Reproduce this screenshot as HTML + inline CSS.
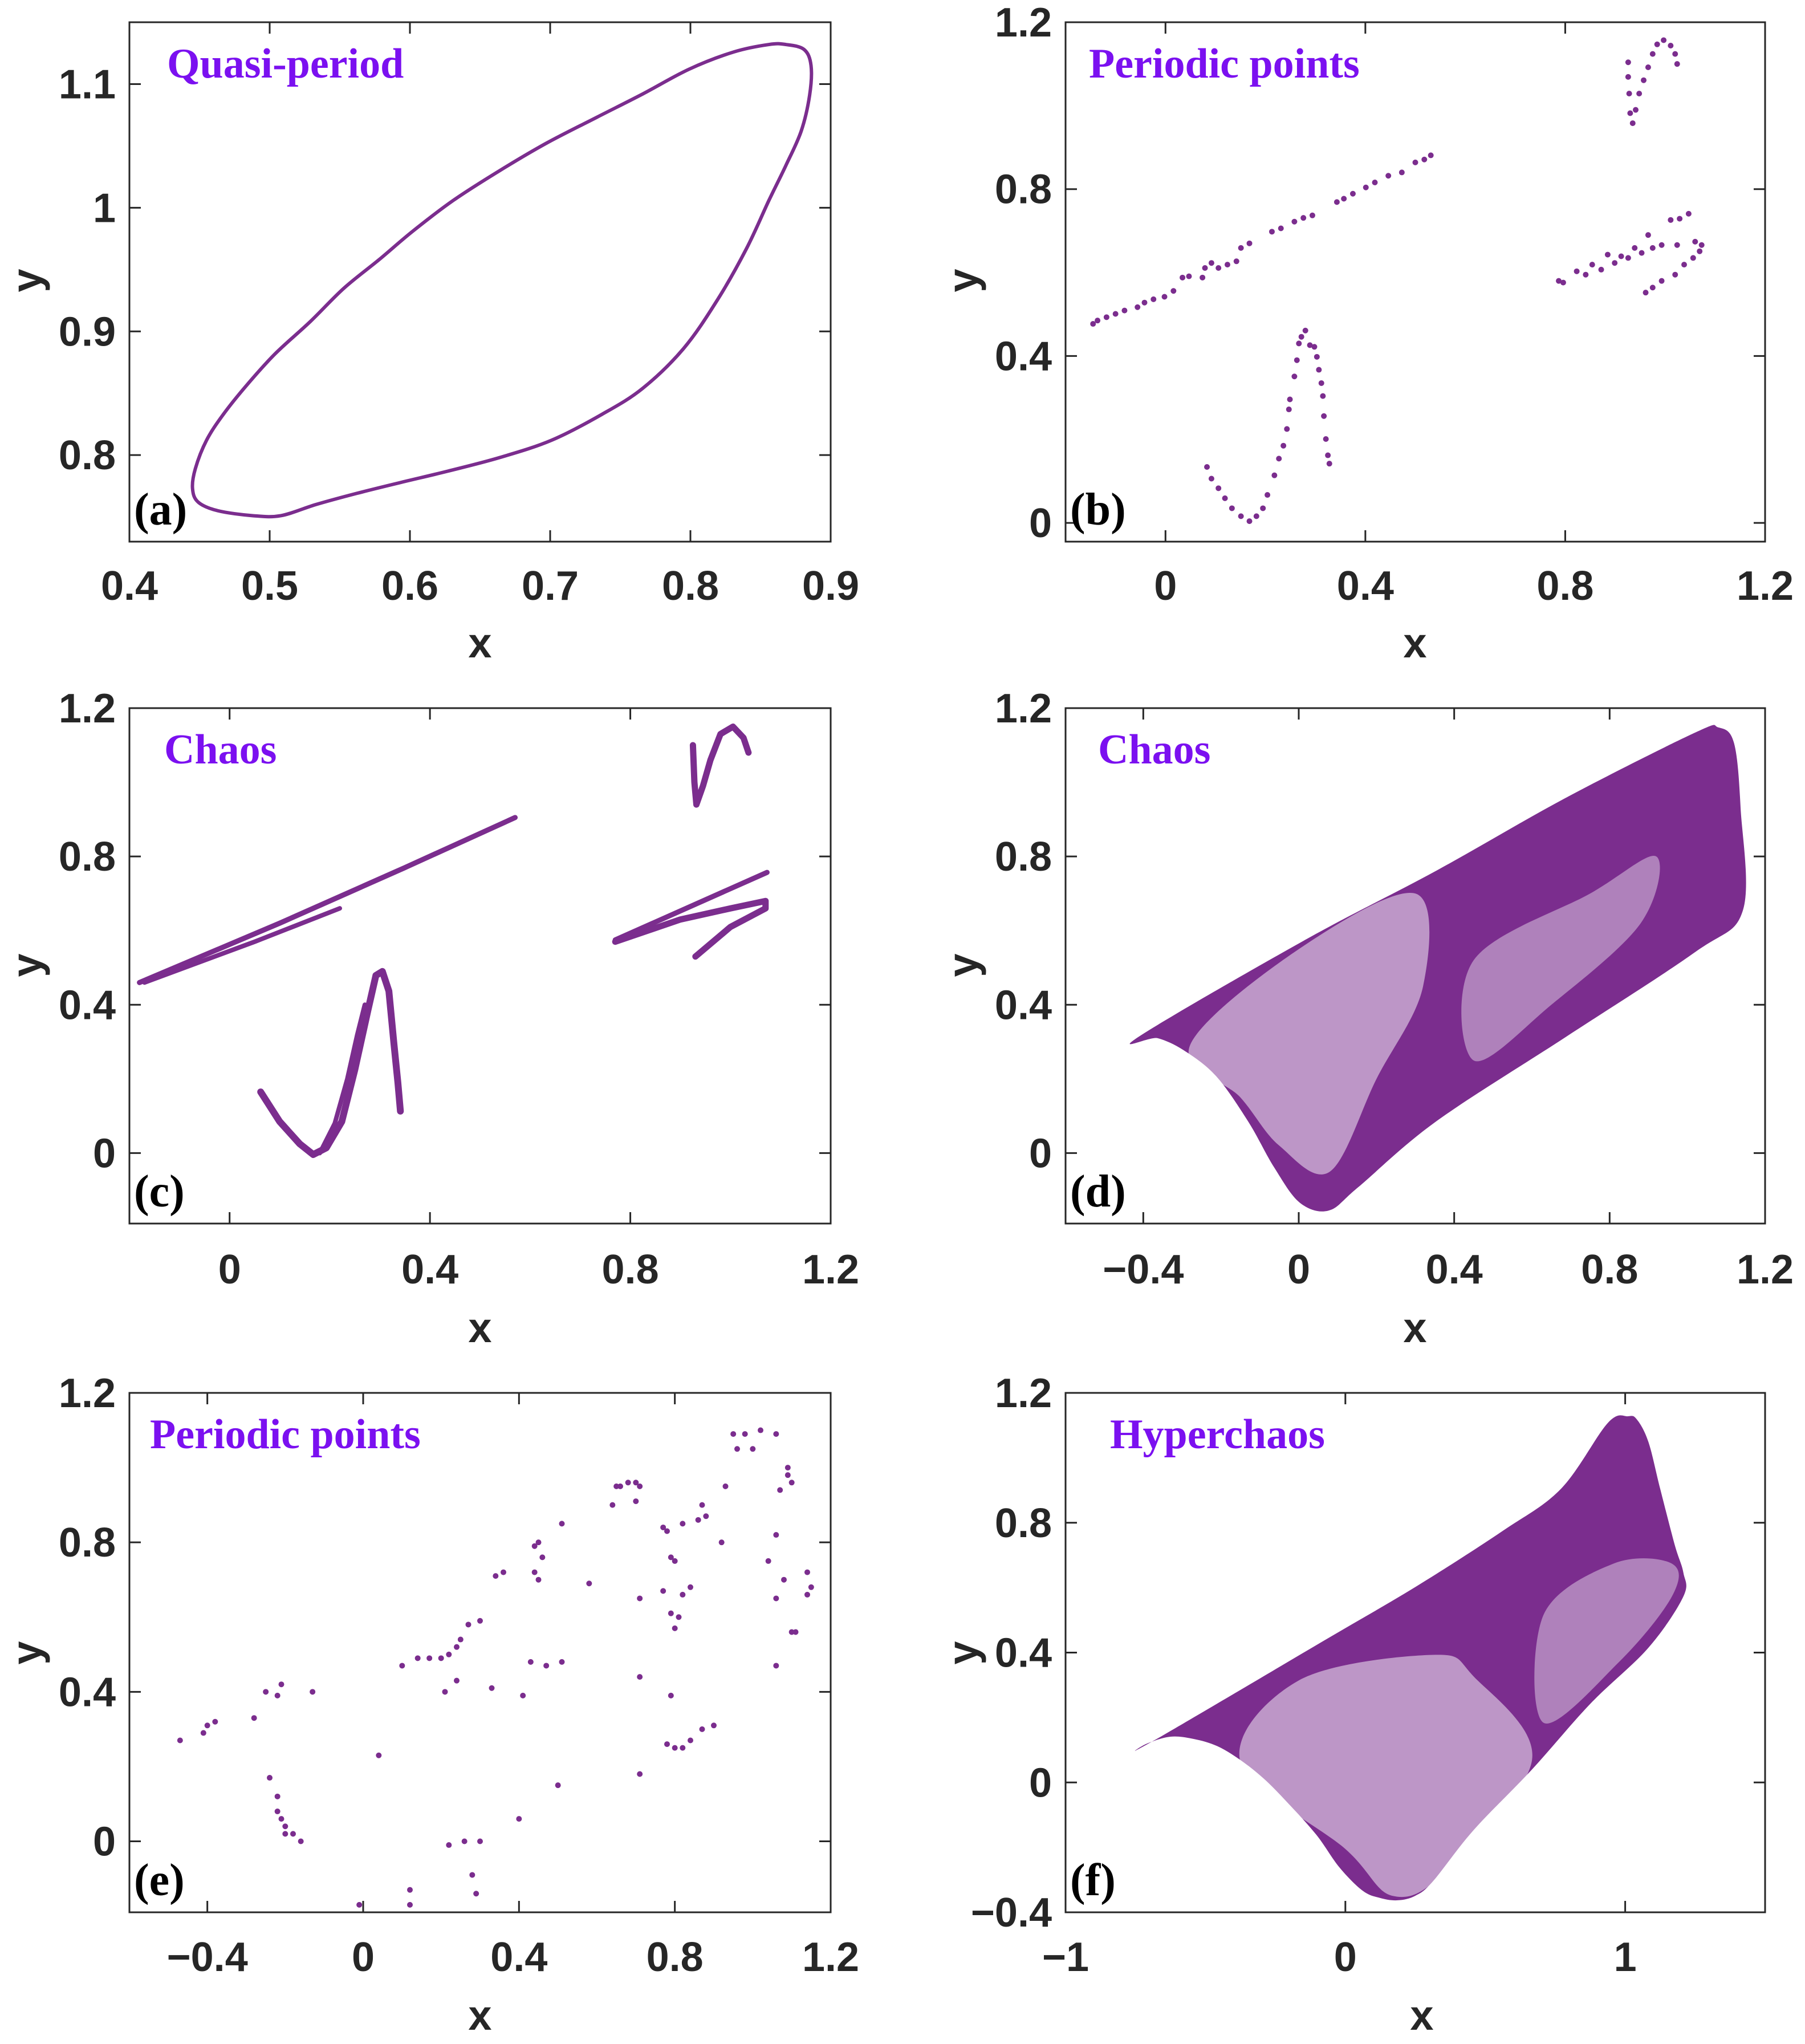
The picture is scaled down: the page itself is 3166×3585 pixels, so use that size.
<!DOCTYPE html>
<html><head><meta charset="utf-8">
<style>
html,body{margin:0;padding:0;background:#fff;}
svg{display:block;}
</style></head>
<body>
<svg id="fig" width="3166" height="3585" viewBox="0 0 3166 3585" xmlns="http://www.w3.org/2000/svg"></svg>
<script>
// ---- Panel (a) quasi-period loop ----
const loopAX=[0.445,0.447,0.455,0.467,0.484,0.504,0.529,0.553,0.578,0.602,0.631,0.664,0.697,0.733,0.766,0.799,0.831,0.856,0.868,0.881,0.886,0.885,0.879,0.868,0.856,0.840,0.819,0.795,0.766,0.737,0.701,0.664,0.627,0.594,0.562,0.533,0.508,0.488,0.463,0.449];
const loopAY=[0.773,0.789,0.812,0.833,0.857,0.882,0.908,0.935,0.958,0.981,1.006,1.030,1.052,1.073,1.092,1.112,1.126,1.132,1.132,1.128,1.115,1.091,1.062,1.034,1.006,0.967,0.925,0.886,0.854,0.833,0.812,0.798,0.787,0.778,0.769,0.760,0.751,0.751,0.755,0.762];
// ---- Panel (b) periodic points ----
const ptsBX=[-0.145,-0.136,-0.118,-0.100,-0.082,-0.056,-0.042,-0.024,-0.002,0.016,0.034,0.047,0.074,0.079,0.092,0.106,0.124,0.142,0.151,0.168,0.213,0.231,0.258,0.276,0.294,0.343,0.357,0.375,0.401,0.419,0.446,0.473,0.500,0.518,0.531,
0.083,0.092,0.106,0.119,0.133,0.151,0.168,0.182,0.195,0.204,0.218,0.227,0.236,0.243,0.247,0.249,0.258,0.263,0.267,0.272,0.280,0.289,0.298,0.303,0.307,0.312,0.315,0.317,0.321,0.325,0.328,
0.926,0.926,0.928,0.930,0.935,0.941,0.948,0.957,0.966,0.975,0.984,0.997,1.011,1.020,1.024,
0.787,0.796,0.823,0.841,0.854,0.872,0.885,0.899,0.912,0.926,0.939,0.953,0.966,0.975,0.993,1.011,1.024,1.029,1.047,1.060,1.073,1.069,1.056,1.038,1.020,0.993,0.975,0.961];
const ptsBY=[0.477,0.485,0.493,0.501,0.509,0.517,0.528,0.536,0.542,0.556,0.588,0.591,0.588,0.611,0.623,0.611,0.619,0.627,0.659,0.670,0.698,0.706,0.722,0.731,0.737,0.769,0.777,0.789,0.804,0.816,0.832,0.840,0.864,0.871,0.881,
0.134,0.106,0.083,0.059,0.035,0.016,0.004,0.016,0.035,0.067,0.114,0.154,0.185,0.225,0.272,0.296,0.351,0.390,0.430,0.446,0.461,0.426,0.422,0.398,0.367,0.335,0.304,0.256,0.201,0.162,0.142,
1.104,1.069,1.029,0.982,0.958,0.990,1.029,1.061,1.092,1.124,1.147,1.157,1.144,1.124,1.100,
0.580,0.576,0.603,0.595,0.619,0.607,0.643,0.623,0.639,0.635,0.659,0.647,0.690,0.659,0.666,0.726,0.666,0.729,0.741,0.674,0.666,0.651,0.635,0.619,0.595,0.580,0.564,0.552];
// ---- Panel (c) chaos curves ----
const lineC1X=[-0.18,0.10,0.35,0.57];
const lineC1Y=[0.46,0.62,0.77,0.905];
const lineC2X=[-0.17,0.05,0.22];
const lineC2Y=[0.46,0.57,0.66];
const sC1X=[0.062,0.10,0.14,0.167,0.193,0.224,0.25,0.276,0.292,0.305,0.318,0.328,0.336,0.341];
const sC1Y=[0.165,0.085,0.025,-0.004,0.014,0.085,0.225,0.384,0.479,0.49,0.437,0.296,0.19,0.113];
const sC2X=[0.18,0.21,0.235,0.255,0.27];
const sC2Y=[0.0,0.08,0.2,0.32,0.40];
const hookCX=[0.925,0.928,0.932,0.945,0.96,0.98,1.005,1.026,1.036];
const hookCY=[1.10,1.0,0.94,0.99,1.06,1.13,1.15,1.12,1.08];
const rC1X=[0.77,1.073];
const rC1Y=[0.575,0.757];
const rC2X=[0.77,0.90,1.0,1.07,1.07,1.0,0.93];
const rC2Y=[0.57,0.63,0.66,0.68,0.66,0.61,0.53];
// ---- Panel (d) chaos region ----
const regDX=[-0.413,0.02,0.353,0.687,1.02,1.08,1.12,1.137,1.143,1.02,0.687,0.353,0.153,0.077,0.003,-0.063,-0.13,-0.213,-0.297,-0.363];
const regDY=[0.313,0.577,0.761,0.958,1.134,1.148,1.106,0.93,0.655,0.542,0.313,0.085,-0.092,-0.155,-0.134,-0.039,0.085,0.208,0.278,0.31];
const lightD1X=[-0.28,0.0,0.3,0.32,0.2,0.08,-0.05,-0.15];
const lightD1Y=[0.29,0.55,0.70,0.45,0.2,-0.05,0.02,0.15];
const lightD2X=[0.45,0.75,0.92,0.88,0.65,0.45];
const lightD2Y=[0.52,0.70,0.80,0.62,0.40,0.25];
// ---- Panel (e) periodic points ----
const ptsEX=[-0.47,-0.41,-0.40,-0.38,-0.28,-0.25,-0.22,-0.21,-0.13,-0.24,-0.22,-0.21,-0.20,-0.20,-0.18,-0.16,-0.22,0.04,-0.01,0.12,0.12,0.10,0.14,0.17,0.20,0.22,0.24,0.25,0.27,0.30,0.21,0.24,0.33,0.34,0.36,0.44,0.45,0.46,0.44,0.45,0.51,0.43,0.47,0.51,0.41,0.40,0.22,0.26,0.30,0.28,0.29,0.50,0.58,0.65,0.66,0.68,0.70,0.71,0.64,0.70,0.78,0.79,0.80,0.77,0.82,0.87,0.86,0.92,0.88,0.77,0.82,0.84,0.79,0.80,0.81,0.71,0.78,0.80,0.82,0.84,0.87,0.90,0.79,0.71,0.95,0.98,1.00,0.96,1.02,1.06,1.09,1.09,1.10,1.07,1.06,1.04,1.06,1.10,1.11,1.08,1.14,1.15,1.14,1.06,0.93,0.71];
const ptsEY=[0.27,0.29,0.31,0.32,0.33,0.40,0.39,0.42,0.40,0.17,0.08,0.06,0.04,0.02,0.02,0.00,0.12,0.23,-0.17,-0.17,-0.13,0.47,0.49,0.49,0.49,0.50,0.52,0.54,0.58,0.59,0.40,0.43,0.41,0.71,0.72,0.79,0.80,0.76,0.72,0.70,0.85,0.48,0.47,0.48,0.39,0.06,-0.01,0.0,0.0,-0.09,-0.14,0.15,0.69,0.95,0.95,0.96,0.96,0.95,0.90,0.91,0.83,0.76,0.75,0.84,0.85,0.90,0.86,0.80,0.87,0.67,0.66,0.68,0.61,0.57,0.60,0.65,0.26,0.25,0.25,0.27,0.30,0.31,0.39,0.18,1.09,1.09,1.05,1.05,1.10,1.09,1.00,0.98,0.96,0.94,0.82,0.75,0.65,0.56,0.56,0.70,0.66,0.68,0.72,0.47,0.95,0.44];
// ---- Panel (f) hyperchaos region ----
const regFX=[-0.75,-0.646,-0.375,-0.0625,0.25,0.5625,0.771,0.9375,1.01,1.042,1.083,1.125,1.177,1.208,1.208,1.083,0.875,0.667,0.458,0.3125,0.25,0.1875,0.125,0.0625,-0.021,-0.104,-0.208,-0.292,-0.375,-0.458,-0.542,-0.625,-0.708];
const regFY=[0.098,0.148,0.285,0.444,0.602,0.775,0.905,1.107,1.128,1.118,1.049,0.905,0.732,0.646,0.573,0.415,0.242,0.040,-0.147,-0.305,-0.349,-0.363,-0.356,-0.334,-0.262,-0.161,-0.061,0.012,0.069,0.112,0.134,0.141,0.12];
const lightF1X=[-0.375,-0.167,0.3125,0.458,0.667,0.354,0.167,0.0];
const lightF1Y=[0.062,0.314,0.393,0.327,0.069,-0.277,-0.349,-0.205];
const lightF2X=[0.708,0.958,1.167,1.167,0.979,0.708];
const lightF2Y=[0.516,0.674,0.674,0.573,0.372,0.184];
// tick labels
const ticksAX=[0.4,0.5,0.6,0.7,0.8,0.9], ticksAY=[0.8,0.9,1,1.1];
const ticksBX=[0,0.4,0.8,1.2], ticksBY=[0,0.4,0.8,1.2];
const ticksCX=[0,0.4,0.8,1.2], ticksCY=[0,0.4,0.8,1.2];
const ticksDX=[-0.4,0,0.4,0.8,1.2], ticksDY=[0,0.4,0.8,1.2];
const ticksEX=[-0.4,0,0.4,0.8,1.2], ticksEY=[0,0.4,0.8,1.2];
const ticksFX=[-1,0,1], ticksFY=[-0.4,0,0.4,0.8,1.2];

const NS='http://www.w3.org/2000/svg';
const svg=document.getElementById('fig');
const PURPLE='#7b2d8e';
function mk(tag,attrs,parent){const e=document.createElementNS(NS,tag);for(const k in attrs)e.setAttribute(k,attrs[k]);(parent||svg).appendChild(e);return e;}
function fmt(v){let s=String(Math.round(v*10)/10);return s.replace('-','\u2212');}

function panel(cfg){
  const g=mk('g',{});
  
  
  const L=cfg.L,R=cfg.R,T=cfg.T,B=cfg.B;
  const sx=v=>L+(v-cfg.xr[0])/(cfg.xr[1]-cfg.xr[0])*(R-L);
  const sy=v=>B-(v-cfg.yr[0])/(cfg.yr[1]-cfg.yr[0])*(B-T);
  const clipId='clip-'+cfg.name;
  const cp=mk('clipPath',{id:clipId},g);mk('rect',{x:L,y:T,width:R-L,height:B-T},cp);
  const plot=mk('g',{'clip-path':'url(#'+clipId+')'},g);
  
  
  cfg.draw(plot,sx,sy);
  const box=mk('rect',{x:L,y:T,width:R-L,height:B-T,fill:'none',stroke:'#262626','stroke-width':3},g);
  
  
  const tl=20;
  cfg.xt.forEach(v=>{const x=sx(v);
    mk('line',{x1:x,y1:B,x2:x,y2:B-tl,stroke:'#262626','stroke-width':3},g);
    mk('line',{x1:x,y1:T,x2:x,y2:T+tl,stroke:'#262626','stroke-width':3},g);
    const t=mk('text',{x:x,y:cfg.xly,'text-anchor':'middle','font-family':'Liberation Sans, sans-serif','font-weight':'bold','font-size':72,fill:'#262626'},g);
    t.textContent=fmt(v);
    
    
  });
  cfg.yt.forEach(v=>{const y=sy(v);
    mk('line',{x1:L,y1:y,x2:L+tl,y2:y,stroke:'#262626','stroke-width':3},g);
    mk('line',{x1:R,y1:y,x2:R-tl,y2:y,stroke:'#262626','stroke-width':3},g);
    const t=mk('text',{x:L-24,y:y+25,'text-anchor':'end','font-family':'Liberation Sans, sans-serif','font-weight':'bold','font-size':72,fill:'#262626'},g);
    t.textContent=fmt(v);
    
    
  });
  const xt=mk('text',{x:cfg.xtx,y:cfg.xty,'text-anchor':'middle','font-family':'Liberation Sans, sans-serif','font-weight':'bold','font-size':74,fill:'#262626'},g);
  xt.textContent='x';
  
  
  const yt=mk('text',{x:0,y:0,transform:'translate('+(cfg.ytx)+','+cfg.yty+') rotate(-90)','text-anchor':'middle','font-family':'Liberation Sans, sans-serif','font-weight':'bold','font-size':74,fill:'#262626'},g);
  yt.textContent='y';
  
  
  const ti=mk('text',{x:cfg.titx,y:T+97,'font-family':'Liberation Serif, serif','font-weight':'bold','font-size':74,fill:'#7b10f0'},g);
  ti.textContent=cfg.title;
  
  
  const pl=mk('text',{x:L+8,y:B-30,'font-family':'Liberation Serif, serif','font-weight':'bold','font-size':80,fill:'#000'},g);
  pl.textContent=cfg.letter;
  
  
}
function pathOf(X,Y,sx,sy,close){let d='';for(let i=0;i<X.length;i++)d+=(i?'L':'M')+sx(X[i]).toFixed(1)+','+sy(Y[i]).toFixed(1);return d+(close?'Z':'');}
function smoothClosed(X,Y,sx,sy){const n=X.length;const P=X.map((x,i)=>[sx(x),sy(Y[i])]);let d='M'+P[0][0]+','+P[0][1];
  for(let i=0;i<n;i++){const p0=P[(i-1+n)%n],p1=P[i],p2=P[(i+1)%n],p3=P[(i+2)%n];
    d+='C'+(p1[0]+(p2[0]-p0[0])/6)+','+(p1[1]+(p2[1]-p0[1])/6)+' '+(p2[0]-(p3[0]-p1[0])/6)+','+(p2[1]-(p3[1]-p1[1])/6)+' '+p2[0]+','+p2[1];}
  return d+'Z';}
function dots(parent,X,Y,sx,sy,r,name){X.forEach((x,i)=>{const c=mk('circle',{cx:sx(x),cy:sy(Y[i]),r:r,fill:PURPLE},parent);
  
  });}
function stroke(parent,X,Y,sx,sy,w,name){const p=mk('path',{d:pathOf(X,Y,sx,sy,false),fill:'none',stroke:PURPLE,'stroke-width':w,'stroke-linecap':'round','stroke-linejoin':'round'},parent);
  
  }
function region(parent,X,Y,sx,sy,fill,op,name){const p=mk('path',{d:smoothClosed(X,Y,sx,sy),fill:fill,'fill-opacity':op,stroke:'none'},parent);
  
  }

const L1=227,R1=1457,L2=1869,R2=3096;
const rows=[[39,950,1027,1128],[1242,2146,2226,2329],[2443,3354,3432,3535]];

panel({name:'panel-a',L:L1,R:R1,T:rows[0][0],B:rows[0][1],xr:[0.4,0.9],yr:[0.73,1.15],xt:ticksAX,yt:ticksAY,xly:rows[0][2]+25,xtx:842,xty:rows[0][3]+25,ytx:72,yty:492,titx:293,title:'Quasi-period',letter:'(a)',
 draw:(g,sx,sy)=>{const p=mk('path',{d:smoothClosed(loopAX,loopAY,sx,sy),fill:'none',stroke:PURPLE,'stroke-width':6},g);
  
  }});
panel({name:'panel-b',L:L2,R:R2,T:rows[0][0],B:rows[0][1],xr:[-0.2,1.2],yr:[-0.045,1.2],xt:ticksBX,yt:ticksBY,xly:rows[0][2]+25,xtx:2482,xty:rows[0][3]+25,ytx:1714,yty:492,titx:1910,title:'Periodic points',letter:'(b)',
 draw:(g,sx,sy)=>dots(g,ptsBX,ptsBY,sx,sy,5,'periodic-point')});
panel({name:'panel-c',L:L1,R:R1,T:rows[1][0],B:rows[1][1],xr:[-0.2,1.2],yr:[-0.19,1.2],xt:ticksCX,yt:ticksCY,xly:rows[1][2]+25,xtx:842,xty:rows[1][3]+25,ytx:72,yty:1693,titx:288,title:'Chaos',letter:'(c)',
 draw:(g,sx,sy)=>{stroke(g,lineC1X,lineC1Y,sx,sy,9,'chaos-branch');stroke(g,lineC2X,lineC2Y,sx,sy,8,'chaos-branch');
  stroke(g,sC1X,sC1Y,sx,sy,12,'chaos-branch');stroke(g,sC2X,sC2Y,sx,sy,8,'chaos-branch');
  stroke(g,hookCX,hookCY,sx,sy,11,'chaos-branch');stroke(g,rC1X,rC1Y,sx,sy,9,'chaos-branch');stroke(g,rC2X,rC2Y,sx,sy,11,'chaos-branch');}});
panel({name:'panel-d',L:L2,R:R2,T:rows[1][0],B:rows[1][1],xr:[-0.6,1.2],yr:[-0.19,1.2],xt:ticksDX,yt:ticksDY,xly:rows[1][2]+25,xtx:2482,xty:rows[1][3]+25,ytx:1714,yty:1693,titx:1926,title:'Chaos',letter:'(d)',
 draw:(g,sx,sy)=>{region(g,regDX,regDY,sx,sy,PURPLE,1,'chaotic-attractor');region(g,lightD1X,lightD1Y,sx,sy,'#fff',0.5,'sparse-region');region(g,lightD2X,lightD2Y,sx,sy,'#fff',0.4,'sparse-region');}});
panel({name:'panel-e',L:L1,R:R1,T:rows[2][0],B:rows[2][1],xr:[-0.6,1.2],yr:[-0.19,1.2],xt:ticksEX,yt:ticksEY,xly:rows[2][2]+25,xtx:842,xty:rows[2][3]+25,ytx:72,yty:2899,titx:263,title:'Periodic points',letter:'(e)',
 draw:(g,sx,sy)=>dots(g,ptsEX,ptsEY,sx,sy,5,'periodic-point')});
panel({name:'panel-f',L:L2,R:R2,T:rows[2][0],B:rows[2][1],xr:[-1,1.5],yr:[-0.4,1.2],xt:ticksFX,yt:ticksFY,xly:rows[2][2]+25,xtx:2494,xty:rows[2][3]+25,ytx:1714,yty:2899,titx:1947,title:'Hyperchaos',letter:'(f)',
 draw:(g,sx,sy)=>{region(g,regFX,regFY,sx,sy,PURPLE,1,'hyperchaotic-attractor');region(g,lightF1X,lightF1Y,sx,sy,'#fff',0.5,'sparse-region');region(g,lightF2X,lightF2Y,sx,sy,'#fff',0.4,'sparse-region');}});
</script>
</body></html>
